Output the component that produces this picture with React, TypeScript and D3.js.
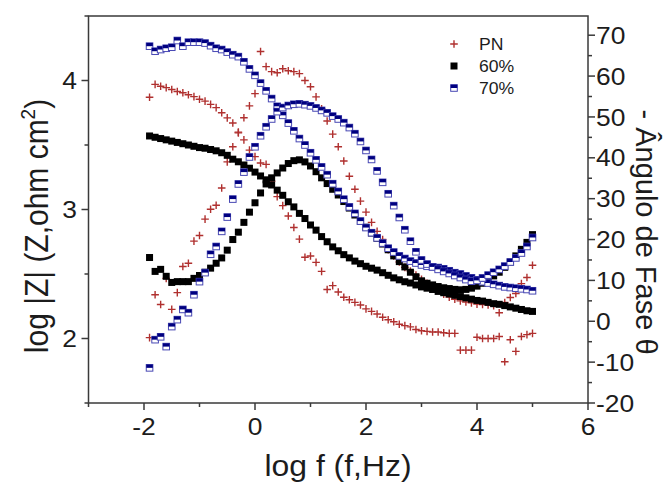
import React from "react";
import * as d3 from "d3";

// log f (Hz) sweep, low to high
const logF = [
  -1.9, -1.8, -1.7, -1.6, -1.5, -1.4, -1.3, -1.2, -1.1, -1.0,
  -0.9, -0.8, -0.7, -0.6, -0.5, -0.4, -0.3, -0.2, -0.1, 0.0,
  0.1, 0.2, 0.3, 0.4, 0.5, 0.6, 0.7, 0.8, 0.9, 1.0,
  1.1, 1.2, 1.3, 1.4, 1.5, 1.6, 1.7, 1.8, 1.9, 2.0,
  2.1, 2.2, 2.3, 2.4, 2.5, 2.6, 2.7, 2.8, 2.9, 3.0,
  3.1, 3.2, 3.3, 3.4, 3.5, 3.6, 3.7, 3.8, 3.9, 4.0,
  4.1, 4.2, 4.3, 4.4, 4.5, 4.6, 4.7, 4.8, 4.9, 5.0,
];

// log |Z| series (left axis)
const pnModulus = [
  3.87, 3.97, 3.955, 3.945, 3.93, 3.915, 3.905, 3.89, 3.875, 3.855,
  3.84, 3.815, 3.79, 3.75, 3.71, 3.67, 3.6, 3.54, 3.46, 3.41,
  3.36, 3.35, 3.22, 3.1, 3.03, 2.95, 2.86, 2.77, 2.63, 2.64,
  2.59, 2.52, 2.38, 2.41, 2.36, 2.32, 2.3, 2.28, 2.26, 2.23,
  2.21, 2.19, 2.165, 2.145, 2.13, 2.11, 2.1, 2.09, 2.07, 2.06,
  2.055, 2.05, 2.05, 2.045, 2.04, 2.04, 1.91, 1.91, 1.91, 2.01,
  2.0, 2.0, 2.0, 2.016, 1.82, 1.99, 1.9, 2.016, 2.03, 2.04,
];
const m60Modulus = [
  3.57, 3.56, 3.55, 3.54, 3.53, 3.52, 3.51, 3.5, 3.49, 3.48,
  3.475, 3.465, 3.455, 3.44, 3.42, 3.39, 3.37, 3.345, 3.32, 3.29,
  3.26, 3.23, 3.19, 3.15, 3.11, 3.06, 3.02, 2.97, 2.93, 2.88,
  2.84, 2.79, 2.75, 2.71, 2.68, 2.65, 2.625, 2.6, 2.58, 2.56,
  2.545, 2.53, 2.51, 2.49, 2.47, 2.455, 2.44, 2.43, 2.415, 2.4,
  2.39, 2.38, 2.365, 2.355, 2.345, 2.335, 2.325, 2.315, 2.305, 2.295,
  2.29, 2.28, 2.27, 2.265, 2.255, 2.245, 2.235, 2.225, 2.215, 2.21,
];
const m70Modulus = [
  4.266, 4.227, 4.24, 4.25, 4.258, 4.31, 4.266, 4.297, 4.297, 4.297,
  4.29, 4.27, 4.25, 4.24, 4.22, 4.2, 4.185, 4.145, 4.09, 4.04,
  3.98, 3.92, 3.86, 3.8, 3.73, 3.67, 3.61, 3.55, 3.5, 3.44,
  3.385, 3.33, 3.27, 3.2, 3.14, 3.08, 3.02, 2.97, 2.91, 2.86,
  2.82, 2.78, 2.74, 2.7, 2.67, 2.64, 2.62, 2.6, 2.585, 2.57,
  2.56, 2.555, 2.55, 2.54, 2.525, 2.51, 2.5, 2.485, 2.47, 2.455,
  2.44, 2.43, 2.42, 2.41, 2.4, 2.395, 2.39, 2.385, 2.38, 2.37,
];

// - phase angle series (right axis, degrees)
const pnPhase = [
  -4.0, 6.5, 4.1, 10.5, 2.9, 7.0, 13.4, 14.2, 19.6, 21.0,
  25.0, 27.4, 28.4, 32.6, 39.0, 42.7, 46.1, 49.8, 52.7, 55.7,
  66.0, 62.3, 61.1, 60.8, 61.8, 61.3, 61.1, 60.6, 58.9, 57.4,
  54.9, 52.0, 49.0, 45.8, 42.7, 39.2, 35.5, 32.3, 29.4, 26.7,
  24.2, 22.0, 20.0, 17.5, 16.0, 14.5, 13.2, 12.3, 11.3, 10.3,
  9.3, 8.5, 7.6, 6.6, 5.9, 5.4, 5.0, 4.7, 4.5, 4.2,
  4.1, 4.0, 3.8, 2.1, 4.6, 5.8, 6.8, 9.2, 10.7, 13.7,
];
const m60Phase = [
  15.6, 12.2, 12.7, 11.0, 9.5, 9.7, 9.7, 9.7, 10.5, 11.2,
  12.0, 13.0, 14.2, 15.5, 17.4, 20.0, 21.8, 24.2, 26.7, 29.0,
  31.4, 33.6, 35.1, 36.3, 37.5, 38.6, 39.3, 39.5, 39.0, 38.0,
  36.6, 35.1, 33.7, 32.3, 30.9, 29.3, 27.7, 26.0, 24.5, 23.0,
  21.6, 20.3, 18.9, 17.5, 16.0, 14.6, 13.3, 12.0, 10.9, 9.9,
  9.3, 8.9, 8.5, 8.2, 8.0, 7.8, 7.7, 7.8, 8.1, 8.6,
  9.3, 10.2, 11.1, 12.0, 13.2, 14.5, 16.0, 17.6, 19.3, 21.2,
];
const m70Phase = [
  -11.4, -4.5, -3.8, -6.2, -1.3, 0.4, 2.9, 2.1, 6.5, 9.7,
  11.9, 16.4, 18.3, 22.0, 25.5, 29.9, 33.6, 36.5, 40.2, 42.7,
  45.4, 47.6, 49.5, 51.3, 52.3, 52.8, 53.1, 53.2, 53.0, 52.7,
  52.2, 51.6, 51.0, 50.2, 49.5, 48.6, 47.4, 45.9, 44.0, 41.8,
  39.6, 36.8, 34.0, 31.2, 28.3, 25.4, 22.4, 19.6, 17.0, 15.0,
  14.0, 13.3, 12.7, 12.2, 11.7, 11.2, 10.7, 10.2, 9.8, 10.0,
  10.6, 11.3, 12.0, 12.7, 13.5, 14.5, 15.5, 16.7, 18.3, 20.5,
];

const legendLabels = ["PN", "60%", "70%"];
const xMajorTicks = [-2, 0, 2, 4, 6];
const xMinorTicks = [-3, -1, 1, 3, 5];
const yLeftMajor = [2, 3, 4];
const yLeftMinor = [1.5, 2.5, 3.5, 4.5];
const yRightMajor = [-20, -10, 0, 10, 20, 30, 40, 50, 60, 70];
const yRightMinor = [-15, -5, 5, 15, 25, 35, 45, 55, 65];

const W = 664;
const H = 482;
const PL = 88.5, PR = 588, PT = 16, PB = 403;
const SX = 1.1; // horizontal glyph stretch of the original rendering
const FONT = "'Liberation Sans', Arial, Helvetica, sans-serif";
const AXIS = "#3a3a3a";
const TXT = "#1c1c1c";
const RED = "#b0302f";
const NAVY = "#000080";
const BLUE_EDGE = "#4848b4";

const x = d3.scaleLinear().domain([-3, 6]).range([PL, PR]);
const yL = d3.scaleLinear().domain([1.5, 4.5]).range([PB, PT]);
const yR = d3.scaleLinear().domain([-20, 74.7]).range([PB, PT]);

type MarkerKind = "cross" | "square" | "half";

function Marker({ kind, cx, cy }: { kind: MarkerKind; cx: number; cy: number }) {
  if (kind === "cross") {
    const a = 3.8;
    return (
      <path
        d={`M${cx - a},${cy}H${cx + a}M${cx},${cy - a}V${cy + a}`}
        stroke={RED}
        strokeWidth={1.4}
        fill="none"
      />
    );
  }
  if (kind === "square") {
    const s = 7;
    return <rect x={cx - s / 2} y={cy - s / 2} width={s} height={s} fill="#000" />;
  }
  const s = 6.6;
  return (
    <g>
      <rect x={cx - s / 2} y={cy - s / 2} width={s} height={s} fill="#fff" stroke={BLUE_EDGE} strokeWidth={1} />
      <rect x={cx - s / 2} y={cy - s / 2} width={s} height={s / 2} fill={NAVY} />
    </g>
  );
}

function Series({ values, scale, kind }: { values: number[]; scale: d3.ScaleLinear<number, number>; kind: MarkerKind }) {
  return (
    <g>
      {values.map((v, i) => (
        <Marker key={i} kind={kind} cx={x(logF[i])} cy={scale(v)} />
      ))}
    </g>
  );
}

function SText({ tx, ty, anchor, size, children, rotate = 0, baseline, sx = SX }: any) {
  return (
    <text
      transform={`translate(${tx},${ty}) scale(${sx},1)${rotate ? ` rotate(${rotate})` : ""}`}
      textAnchor={anchor}
      fontSize={size}
      fontFamily={FONT}
      fill={TXT}
      dominantBaseline={baseline}
    >
      {children}
    </text>
  );
}

export default function App() {
  const majorLen = 7;
  const minorLen = 4;
  const legendKinds: MarkerKind[] = ["cross", "square", "half"];
  const legendY = [44, 66, 88];
  return (
    <svg
      width={W}
      height={H}
      viewBox={`0 0 ${W} ${H}`}
      style={{ position: "absolute", left: 0, top: 0, background: "#fff" }}
    >
      <rect x={0} y={0} width={W} height={H} fill="#fff" />

      {/* data */}
      <Series values={pnModulus} scale={yL} kind="cross" />
      <Series values={pnPhase} scale={yR} kind="cross" />
      <Series values={m60Modulus} scale={yL} kind="square" />
      <Series values={m60Phase} scale={yR} kind="square" />
      <Series values={m70Modulus} scale={yL} kind="half" />
      <Series values={m70Phase} scale={yR} kind="half" />

      {/* frame */}
      <rect x={PL} y={PT} width={PR - PL} height={PB - PT} fill="none" stroke={AXIS} strokeWidth={1.5} />

      {/* x ticks */}
      {xMajorTicks.map((t) => (
        <line key={"xM" + t} x1={x(t)} x2={x(t)} y1={PB} y2={PB + majorLen} stroke={AXIS} strokeWidth={1.5} />
      ))}
      {xMinorTicks.map((t) => (
        <line key={"xm" + t} x1={x(t)} x2={x(t)} y1={PB} y2={PB + minorLen} stroke={AXIS} strokeWidth={1.5} />
      ))}
      {xMajorTicks.map((t) => (
        <SText key={"xl" + t} tx={x(t)} ty={435} anchor="middle" size={24}>
          {String(t)}
        </SText>
      ))}

      {/* left ticks */}
      {yLeftMajor.map((t) => (
        <line key={"lM" + t} x1={PL - majorLen} x2={PL} y1={yL(t)} y2={yL(t)} stroke={AXIS} strokeWidth={1.5} />
      ))}
      {yLeftMinor.map((t) => (
        <line key={"lm" + t} x1={PL - minorLen} x2={PL} y1={yL(t)} y2={yL(t)} stroke={AXIS} strokeWidth={1.5} />
      ))}
      {yLeftMajor.map((t) => (
        <SText key={"ll" + t} tx={77} ty={yL(t) + 8.6} anchor="end" size={24}>
          {String(t)}
        </SText>
      ))}

      {/* right ticks */}
      {yRightMajor.map((t) => (
        <line key={"rM" + t} x1={PR} x2={PR + majorLen} y1={yR(t)} y2={yR(t)} stroke={AXIS} strokeWidth={1.5} />
      ))}
      {yRightMinor.map((t) => (
        <line key={"rm" + t} x1={PR} x2={PR + minorLen} y1={yR(t)} y2={yR(t)} stroke={AXIS} strokeWidth={1.5} />
      ))}
      {yRightMajor.map((t) => (
        <SText key={"rl" + t} tx={596} ty={yR(t) + 8.6} anchor="start" size={24}>
          {String(t)}
        </SText>
      ))}

      {/* axis titles */}
      <SText tx={338} ty={476} anchor="middle" size={29}>
        log f (f,Hz)
      </SText>
      <SText tx={48} ty={226} anchor="middle" size={30} rotate={-90}>
        log |Z| (Z,ohm cm
        <tspan fontSize={19} dy={-12}>2</tspan>
        <tspan dy={12}>)</tspan>
      </SText>
      <SText tx={636} ty={232} anchor="middle" size={29} rotate={90} sx={1}>
        - Ângulo de Fase θ
      </SText>

      {/* legend */}
      {legendLabels.map((lab, i) => (
        <g key={lab}>
          <Marker kind={legendKinds[i]} cx={454} cy={legendY[i]} />
          <SText tx={479} ty={legendY[i] + 5.8} anchor="start" size={16}>
            {lab}
          </SText>
        </g>
      ))}
    </svg>
  );
}
